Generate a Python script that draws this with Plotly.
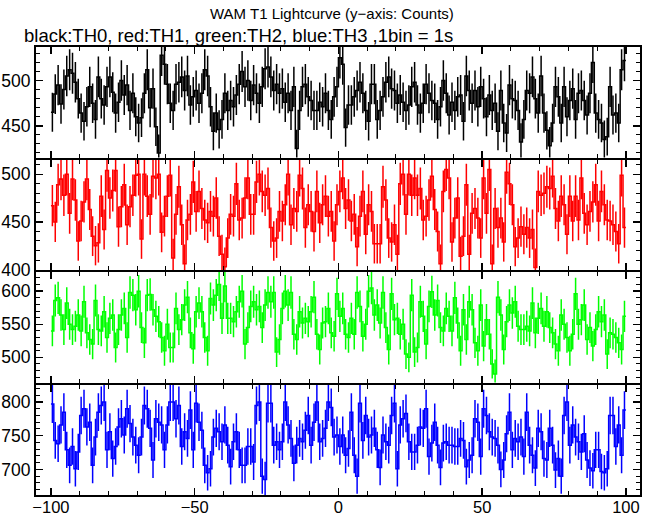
import math
import plotly.graph_objects as go
from plotly.subplots import make_subplots

# ---- data -------------------------------------------------------------
TIME_START = -100   # s
BIN_SIZE = 1        # s

TH0 = [465, 485, 495, 474, 490, 505, 512, 508, 498, 480,
       464, 455, 471, 493, 475, 457, 504, 480, 473, 493,
       504, 487, 464, 476, 500, 484, 495, 467, 486, 460,
       453, 459, 486, 512, 470, 491, 449, 420, 528, 518,
       496, 475, 467, 496, 498, 504, 489, 505, 473, 482,
       489, 475, 486, 512, 505, 471, 444, 464, 446, 457,
       486, 467, 478, 471, 484, 496, 510, 493, 500, 478,
       495, 486, 475, 493, 513, 515, 504, 489, 496, 486,
       491, 476, 486, 467, 493, 425, 467, 493, 496, 482,
       478, 467, 467, 476, 471, 486, 467, 457, 482, 493,
       525, 518, 448, 473, 473, 482, 489, 498, 486, 467,
       455, 496, 496, 457, 467, 482, 498, 504, 491, 489,
       475, 484, 476, 467, 473, 493, 498, 473, 464, 475,
       496, 486, 478, 475, 457, 471, 500, 486, 462, 476,
       467, 482, 484, 455, 505, 489, 475, 489, 471, 493,
       480, 460, 484, 467, 475, 444, 489, 453, 442, 495,
       480, 478, 467, 432, 457, 489, 486, 504, 480, 464,
       505, 464, 445, 428, 453, 493, 482, 453, 493, 460,
       478, 491, 457, 486, 489, 478, 462, 486, 520, 464,
       457, 453, 435, 438, 493, 462, 464, 453, 512, 522]

TH1 = [467, 450, 489, 495, 478, 500, 459, 495, 473, 430,
       451, 471, 495, 463, 435, 425, 428, 477, 442, 504,
       475, 483, 504, 445, 466, 489, 447, 466, 478, 499,
       500, 432, 500, 477, 458, 498, 496, 500, 439, 456,
       477, 499, 412, 458, 487, 447, 406, 452, 458, 492,
       461, 482, 464, 452, 449, 461, 456, 475, 435, 416,
       403, 433, 458, 456, 490, 452, 454, 475, 496, 458,
       458, 492, 500, 482, 478, 485, 444, 430, 433, 461,
       451, 468, 500, 447, 464, 461, 499, 485, 444, 468,
       461, 440, 482, 449, 468, 477, 456, 461, 430, 468,
       482, 496, 464, 473, 451, 458, 424, 456, 482, 437,
       468, 461, 427, 427, 427, 487, 473, 433, 429, 447,
       416, 490, 500, 458, 500, 478, 496, 478, 485, 452,
       456, 473, 498, 463, 440, 406, 482, 505, 496, 429,
       454, 475, 414, 435, 489, 416, 459, 464, 454, 433,
       496, 459, 505, 406, 464, 444, 454, 429, 502, 490,
       468, 424, 433, 445, 437, 444, 433, 442, 402, 482,
       478, 480, 487, 485, 498, 464, 451, 477, 468, 437,
       477, 451, 477, 452, 496, 459, 447, 461, 471, 489,
       451, 482, 468, 452, 451, 447, 440, 427, 499, 444]

TH2 = [540, 586, 590, 564, 542, 582, 550, 542, 547, 564,
       540, 584, 537, 527, 520, 586, 542, 540, 569, 530,
       559, 564, 515, 542, 564, 574, 530, 598, 594, 572,
       600, 545, 522, 594, 595, 572, 562, 554, 530, 510,
       550, 515, 515, 574, 542, 557, 579, 591, 537, 513,
       569, 582, 569, 530, 510, 589, 579, 594, 610, 559,
       608, 559, 559, 554, 569, 584, 600, 520, 545, 577,
       584, 572, 577, 545, 579, 598, 584, 598, 508, 527,
       574, 600, 579, 598, 535, 527, 569, 552, 559, 554,
       569, 591, 535, 512, 552, 554, 574, 537, 532, 596,
       562, 574, 535, 530, 559, 535, 598, 577, 532, 550,
       600, 605, 564, 579, 552, 598, 545, 512, 596, 557,
       559, 535, 550, 505, 500, 594, 508, 515, 584, 562,
       520, 577, 599, 564, 586, 545, 540, 574, 562, 540,
       590, 552, 510, 572, 527, 584, 572, 522, 510, 579,
       517, 557, 535, 490, 475, 591, 564, 512, 554, 579,
       567, 584, 547, 542, 542, 547, 540, 582, 537, 559,
       574, 547, 569, 545, 537, 520, 510, 564, 550, 530,
       510, 535, 596, 550, 557, 579, 527, 545, 517, 542,
       569, 554, 564, 505, 537, 535, 530, 522, 512, 562]

TH3 = [797, 743, 738, 766, 785, 729, 706, 734, 701, 726,
       780, 790, 763, 770, 706, 748, 785, 795, 800, 729,
       756, 716, 734, 763, 775, 751, 790, 768, 748, 736,
       721, 748, 795, 790, 761, 714, 775, 770, 766, 729,
       766, 800, 800, 775, 795, 734, 756, 746, 788, 729,
       798, 770, 758, 706, 695, 701, 748, 761, 756, 741,
       766, 736, 704, 741, 756, 729, 706, 706, 734, 734,
       711, 795, 800, 690, 685, 798, 798, 736, 741, 729,
       741, 800, 766, 746, 709, 736, 746, 741, 758, 780,
       736, 770, 800, 741, 746, 761, 800, 792, 748, 751,
       734, 751, 721, 731, 785, 721, 690, 798, 743, 780,
       748, 751, 761, 729, 703, 751, 741, 736, 780, 798,
       701, 766, 775, 783, 741, 726, 726, 736, 763, 761,
       790, 719, 739, 770, 736, 703, 739, 741, 736, 736,
       734, 734, 746, 743, 704, 714, 721, 775, 770, 719,
       790, 780, 756, 748, 746, 736, 700, 714, 753, 785,
       729, 746, 741, 748, 719, 785, 736, 721, 702, 761,
       756, 716, 714, 761, 736, 699, 716, 690, 780, 800,
       736, 766, 748, 741, 726, 753, 714, 702, 698, 729,
       729, 697, 695, 701, 780, 780, 734, 766, 721, 788]

SERIES = [TH0, TH1, TH2, TH3]
COLORS = ["#000000", "#ff0000", "#00ff00", "#0000ff"]
Y_RANGES = [[415, 537], [399.5, 515.5], [462, 629], [662, 826]]
X_RANGE = [-105.2, 104.9]
X_TICKS = [-100, -50, 0, 50, 100]
X_TICK_LABELS = ["\u2212100", "\u221250", "0", "50", "100"]

TITLE = "WAM T1 Lightcurve (y\u2212axis: Counts)"
SUBTITLE = "black:TH0, red:TH1, green:TH2, blue:TH3 ,1bin = 1s"

# ---- figure -----------------------------------------------------------
FONT = "Liberation Sans, Arial, Helvetica, sans-serif"
W, H = 653, 515
M_L, M_R, M_T, M_B = 36, 13, 47, 20
PLOT_H = H - M_T - M_B
fig = make_subplots(rows=4, cols=1, shared_xaxes=True,
                    vertical_spacing=2.0 / PLOT_H)

for k, (vals, col) in enumerate(zip(SERIES, COLORS)):
    n = len(vals)
    xs = [TIME_START + i * BIN_SIZE for i in range(n + 1)]
    ys = list(vals) + [vals[-1]]
    fig.add_trace(go.Scatter(x=xs, y=ys, mode="lines",
                             line=dict(color=col, width=1.5, shape="hv"),
                             hoverinfo="skip", showlegend=False),
                  row=k + 1, col=1)
    xc = [TIME_START + (i + 0.5) * BIN_SIZE for i in range(n)]
    err = [math.sqrt(v) for v in vals]
    fig.add_trace(go.Scatter(x=xc, y=vals, mode="markers",
                             marker=dict(size=0.1, color=col, opacity=0),
                             error_y=dict(type="data", array=err, visible=True,
                                          color=col, thickness=1.5, width=0),
                             hoverinfo="skip", showlegend=False),
                  row=k + 1, col=1)

    fig.update_yaxes(range=Y_RANGES[k], dtick=50, tick0=0, automargin=False,
                     ticks="inside", ticklen=7, tickwidth=1.5, tickcolor="black",
                     minor=dict(dtick=10, ticks="inside", ticklen=4,
                                tickwidth=1, tickcolor="black"),
                     showline=True, linewidth=2, linecolor="black", mirror="ticks",
                     showgrid=False, zeroline=False,
                     tickfont=dict(family=FONT, size=17.5, color="black"),
                     row=k + 1, col=1)
    fig.update_xaxes(range=X_RANGE, automargin=False,
                     tickvals=X_TICKS, ticktext=X_TICK_LABELS,
                     ticks="inside", ticklen=7, tickwidth=1.5, tickcolor="black",
                     minor=dict(dtick=10, ticks="inside", ticklen=4,
                                tickwidth=1, tickcolor="black"),
                     showline=True, linewidth=2, linecolor="black", mirror="ticks",
                     showgrid=False, zeroline=False,
                     showticklabels=(k == 3), ticklabelstandoff=-4,
                     tickfont=dict(family=FONT, size=16.5, color="black"),
                     row=k + 1, col=1)

fig.add_annotation(text=TITLE, xref="paper", yref="paper", x=0.49, y=1.0,
                   yshift=34, xanchor="center", yanchor="middle", showarrow=False,
                   font=dict(family=FONT, size=15, color="black"))
fig.add_annotation(text=SUBTITLE, xref="paper", yref="paper", x=-0.023, y=1.0,
                   yshift=12, xanchor="left", yanchor="middle", showarrow=False,
                   font=dict(family=FONT, size=18.5, color="black"))

fig.update_layout(width=W, height=H,
                  margin=dict(l=M_L, r=M_R, t=M_T, b=M_B),
                  paper_bgcolor="white", plot_bgcolor="white")

# remove the browser's default page margin so the figure sits at (0, 0)
fig.write_html("out.html",
               config={"displayModeBar": False, "staticPlot": True},
               post_script="document.body.style.margin='0px';"
                           "document.body.style.overflow='hidden';")
